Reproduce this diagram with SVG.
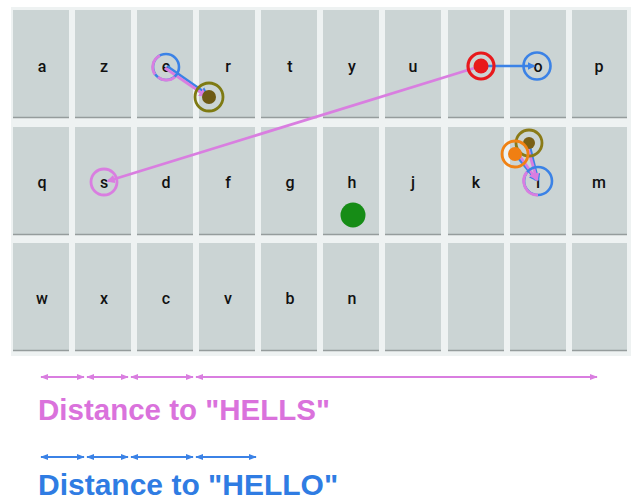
<svg xmlns="http://www.w3.org/2000/svg" width="635" height="502" viewBox="0 0 635 502">
<defs>
<style>
.key{fill:#cbd4d4;}
.kb{stroke:#959c9c;stroke-width:1.5;}
.lt{font-family:Roboto,"Liberation Sans",sans-serif;font-size:16px;font-weight:500;fill:#111;text-anchor:middle;}
.pk{stroke:#d97ee0;fill:none;stroke-width:2.8;}
.bl{stroke:#3b82e6;fill:none;stroke-width:2.6;}
.dp{stroke:#d97ee0;stroke-width:2;fill:none;marker-start:url(#ap);marker-end:url(#ap);}
.db{stroke:#3b82e6;stroke-width:2;fill:none;marker-start:url(#ab);marker-end:url(#ab);}
.cap{font-family:"Liberation Sans",Arial,sans-serif;font-weight:bold;}
</style>
<marker id="ap" viewBox="0 0 10 10" refX="9" refY="5" markerWidth="4" markerHeight="4" orient="auto-start-reverse" markerUnits="strokeWidth"><path d="M0 1 L10 5 L0 9 z" fill="#d97ee0"/></marker>
<marker id="ab" viewBox="0 0 10 10" refX="9" refY="5" markerWidth="4" markerHeight="4" orient="auto-start-reverse" markerUnits="strokeWidth"><path d="M0 1 L10 5 L0 9 z" fill="#3b82e6"/></marker>
<marker id="hp" viewBox="0 0 10 10" refX="8" refY="5" markerWidth="3" markerHeight="3" orient="auto" markerUnits="strokeWidth"><path d="M0 0 L10 5 L0 10 z" fill="#d97ee0"/></marker>
<marker id="hb" viewBox="0 0 10 10" refX="8" refY="5" markerWidth="3" markerHeight="3" orient="auto" markerUnits="strokeWidth"><path d="M0 0 L10 5 L0 10 z" fill="#3b82e6"/></marker>
</defs>
<rect x="0" y="0" width="635" height="502" fill="#ffffff"/>
<rect x="11" y="7" width="620" height="349" fill="#eef2f2"/>
<g id="keys">
<g id="key-a"><rect class="key" x="13" y="10" width="56" height="108"/><line class="kb" x1="13" y1="117.5" x2="69" y2="117.5"/><text class="lt" x="42" y="72">a</text></g>
<g id="key-z"><rect class="key" x="75" y="10" width="56" height="108"/><line class="kb" x1="75" y1="117.5" x2="131" y2="117.5"/><text class="lt" x="104" y="72">z</text></g>
<g id="key-e"><rect class="key" x="137" y="10" width="56" height="108"/><line class="kb" x1="137" y1="117.5" x2="193" y2="117.5"/><text class="lt" x="166" y="72">e</text></g>
<g id="key-r"><rect class="key" x="199" y="10" width="56" height="108"/><line class="kb" x1="199" y1="117.5" x2="255" y2="117.5"/><text class="lt" x="228" y="72">r</text></g>
<g id="key-t"><rect class="key" x="261" y="10" width="56" height="108"/><line class="kb" x1="261" y1="117.5" x2="317" y2="117.5"/><text class="lt" x="290" y="72">t</text></g>
<g id="key-y"><rect class="key" x="323" y="10" width="56" height="108"/><line class="kb" x1="323" y1="117.5" x2="379" y2="117.5"/><text class="lt" x="352" y="72">y</text></g>
<g id="key-u"><rect class="key" x="385" y="10" width="56" height="108"/><line class="kb" x1="385" y1="117.5" x2="441" y2="117.5"/><text class="lt" x="413" y="72">u</text></g>
<g id="key-i"><rect class="key" x="448" y="10" width="56" height="108"/><line class="kb" x1="448" y1="117.5" x2="504" y2="117.5"/><text class="lt" x="478" y="72">i</text></g>
<g id="key-o"><rect class="key" x="510" y="10" width="56" height="108"/><line class="kb" x1="510" y1="117.5" x2="566" y2="117.5"/><text class="lt" x="538" y="72">o</text></g>
<g id="key-p"><rect class="key" x="572" y="10" width="55" height="108"/><line class="kb" x1="572" y1="117.5" x2="627" y2="117.5"/><text class="lt" x="599" y="72">p</text></g>

<g id="key-q"><rect class="key" x="13" y="127" width="56" height="108"/><line class="kb" x1="13" y1="234.5" x2="69" y2="234.5"/><text class="lt" x="42" y="188">q</text></g>
<g id="key-s"><rect class="key" x="75" y="127" width="56" height="108"/><line class="kb" x1="75" y1="234.5" x2="131" y2="234.5"/><text class="lt" x="104" y="188">s</text></g>
<g id="key-d"><rect class="key" x="137" y="127" width="56" height="108"/><line class="kb" x1="137" y1="234.5" x2="193" y2="234.5"/><text class="lt" x="166" y="188">d</text></g>
<g id="key-f"><rect class="key" x="199" y="127" width="56" height="108"/><line class="kb" x1="199" y1="234.5" x2="255" y2="234.5"/><text class="lt" x="228" y="188">f</text></g>
<g id="key-g"><rect class="key" x="261" y="127" width="56" height="108"/><line class="kb" x1="261" y1="234.5" x2="317" y2="234.5"/><text class="lt" x="290" y="188">g</text></g>
<g id="key-h"><rect class="key" x="323" y="127" width="56" height="108"/><line class="kb" x1="323" y1="234.5" x2="379" y2="234.5"/><text class="lt" x="352" y="188">h</text></g>
<g id="key-j"><rect class="key" x="385" y="127" width="56" height="108"/><line class="kb" x1="385" y1="234.5" x2="441" y2="234.5"/><text class="lt" x="413" y="188">j</text></g>
<g id="key-k"><rect class="key" x="448" y="127" width="56" height="108"/><line class="kb" x1="448" y1="234.5" x2="504" y2="234.5"/><text class="lt" x="476" y="188">k</text></g>
<g id="key-l"><rect class="key" x="510" y="127" width="56" height="108"/><line class="kb" x1="510" y1="234.5" x2="566" y2="234.5"/><text class="lt" x="538" y="188">l</text></g>
<g id="key-m"><rect class="key" x="572" y="127" width="55" height="108"/><line class="kb" x1="572" y1="234.5" x2="627" y2="234.5"/><text class="lt" x="599" y="188">m</text></g>

<g id="key-w"><rect class="key" x="13" y="243" width="56" height="108"/><line class="kb" x1="13" y1="350.5" x2="69" y2="350.5"/><text class="lt" x="42" y="304">w</text></g>
<g id="key-x"><rect class="key" x="75" y="243" width="56" height="108"/><line class="kb" x1="75" y1="350.5" x2="131" y2="350.5"/><text class="lt" x="104" y="304">x</text></g>
<g id="key-c"><rect class="key" x="137" y="243" width="56" height="108"/><line class="kb" x1="137" y1="350.5" x2="193" y2="350.5"/><text class="lt" x="166" y="304">c</text></g>
<g id="key-v"><rect class="key" x="199" y="243" width="56" height="108"/><line class="kb" x1="199" y1="350.5" x2="255" y2="350.5"/><text class="lt" x="228" y="304">v</text></g>
<g id="key-b"><rect class="key" x="261" y="243" width="56" height="108"/><line class="kb" x1="261" y1="350.5" x2="317" y2="350.5"/><text class="lt" x="290" y="304">b</text></g>
<g id="key-n"><rect class="key" x="323" y="243" width="56" height="108"/><line class="kb" x1="323" y1="350.5" x2="379" y2="350.5"/><text class="lt" x="352" y="304">n</text></g>
<g id="key-blank1"><rect class="key" x="385" y="243" width="56" height="108"/><line class="kb" x1="385" y1="350.5" x2="441" y2="350.5"/></g>
<g id="key-blank2"><rect class="key" x="448" y="243" width="56" height="108"/><line class="kb" x1="448" y1="350.5" x2="504" y2="350.5"/></g>
<g id="key-blank3"><rect class="key" x="510" y="243" width="56" height="108"/><line class="kb" x1="510" y1="350.5" x2="566" y2="350.5"/></g>
<g id="key-blank4"><rect class="key" x="572" y="243" width="55" height="108"/><line class="kb" x1="572" y1="350.5" x2="627" y2="350.5"/></g>
</g>

<g id="connectors">
<line class="bl" x1="167" y1="66" x2="207" y2="94" marker-end="url(#hb)"/>
<line class="pk" x1="165" y1="68" x2="206" y2="96" marker-end="url(#hp)"/>
<line class="pk" x1="481" y1="66" x2="108" y2="181" marker-end="url(#hp)"/>
<line class="bl" x1="481" y1="66" x2="534" y2="66" marker-end="url(#hb)"/>
<line class="bl" x1="515" y1="154" x2="536" y2="180" marker-end="url(#hb)"/>
<line class="bl" x1="529" y1="143" x2="538" y2="180" marker-end="url(#hb)"/>
<line class="pk" x1="517" y1="152" x2="536" y2="179" marker-end="url(#hp)"/>
<line class="pk" x1="527" y1="145" x2="537" y2="180" marker-end="url(#hp)"/>
</g>

<g id="touch-e">
<circle cx="166" cy="67" r="13" class="bl"/>
<path d="M 155 74.5 A 13 13 0 0 1 160 55.5" class="pk"/>
<path d="M 175 77 A 13 13 0 0 1 158 77" class="pk"/>
</g>
<g id="touch-r">
<circle cx="209" cy="97" r="14" fill="none" stroke="#7e7a12" stroke-width="2.8"/>
<circle cx="209" cy="97" r="7" fill="#6e5a14"/>
</g>
<g id="touch-i">
<circle cx="481" cy="66" r="13" fill="none" stroke="#e8191c" stroke-width="3.2"/>
<circle cx="481" cy="66" r="7.5" fill="#e8191c"/>
</g>
<g id="touch-o"><circle cx="537" cy="66" r="13.5" class="bl"/></g>
<g id="touch-s"><circle cx="104" cy="182" r="13" class="pk"/></g>
<g id="touch-l1">
<circle cx="529" cy="143" r="13" fill="none" stroke="#8a7a16" stroke-width="2.8"/>
<circle cx="529" cy="143" r="6" fill="#7a5f14"/>
</g>
<g id="touch-l2">
<circle cx="515" cy="154" r="13" fill="none" stroke="#f08214" stroke-width="2.8"/>
<circle cx="515" cy="154" r="7" fill="#f07f12"/>
</g>
<g id="touch-l">
<circle cx="538" cy="181" r="14" class="bl"/>
<path d="M 527 172 A 14 14 0 0 0 538 195" class="pk"/>
</g>
<g id="touch-h"><circle cx="353" cy="215" r="12.5" fill="#168c16"/></g>

<g id="dist-hells">
<line class="dp" x1="41" y1="377" x2="84" y2="377"/>
<line class="dp" x1="87" y1="377" x2="128" y2="377"/>
<line class="dp" x1="131" y1="377" x2="193" y2="377"/>
<line class="dp" x1="196" y1="377" x2="597" y2="377"/>
<text class="cap" x="38" y="420" font-size="29.5" fill="#da72dc">Distance to "HELLS"</text>
</g>
<g id="dist-hello">
<line class="db" x1="41" y1="457" x2="84" y2="457"/>
<line class="db" x1="87" y1="457" x2="128" y2="457"/>
<line class="db" x1="131" y1="457" x2="193" y2="457"/>
<line class="db" x1="196" y1="457" x2="256" y2="457"/>
<text class="cap" x="38" y="495" font-size="30" fill="#2f7ce3">Distance to "HELLO"</text>
</g>
</svg>
